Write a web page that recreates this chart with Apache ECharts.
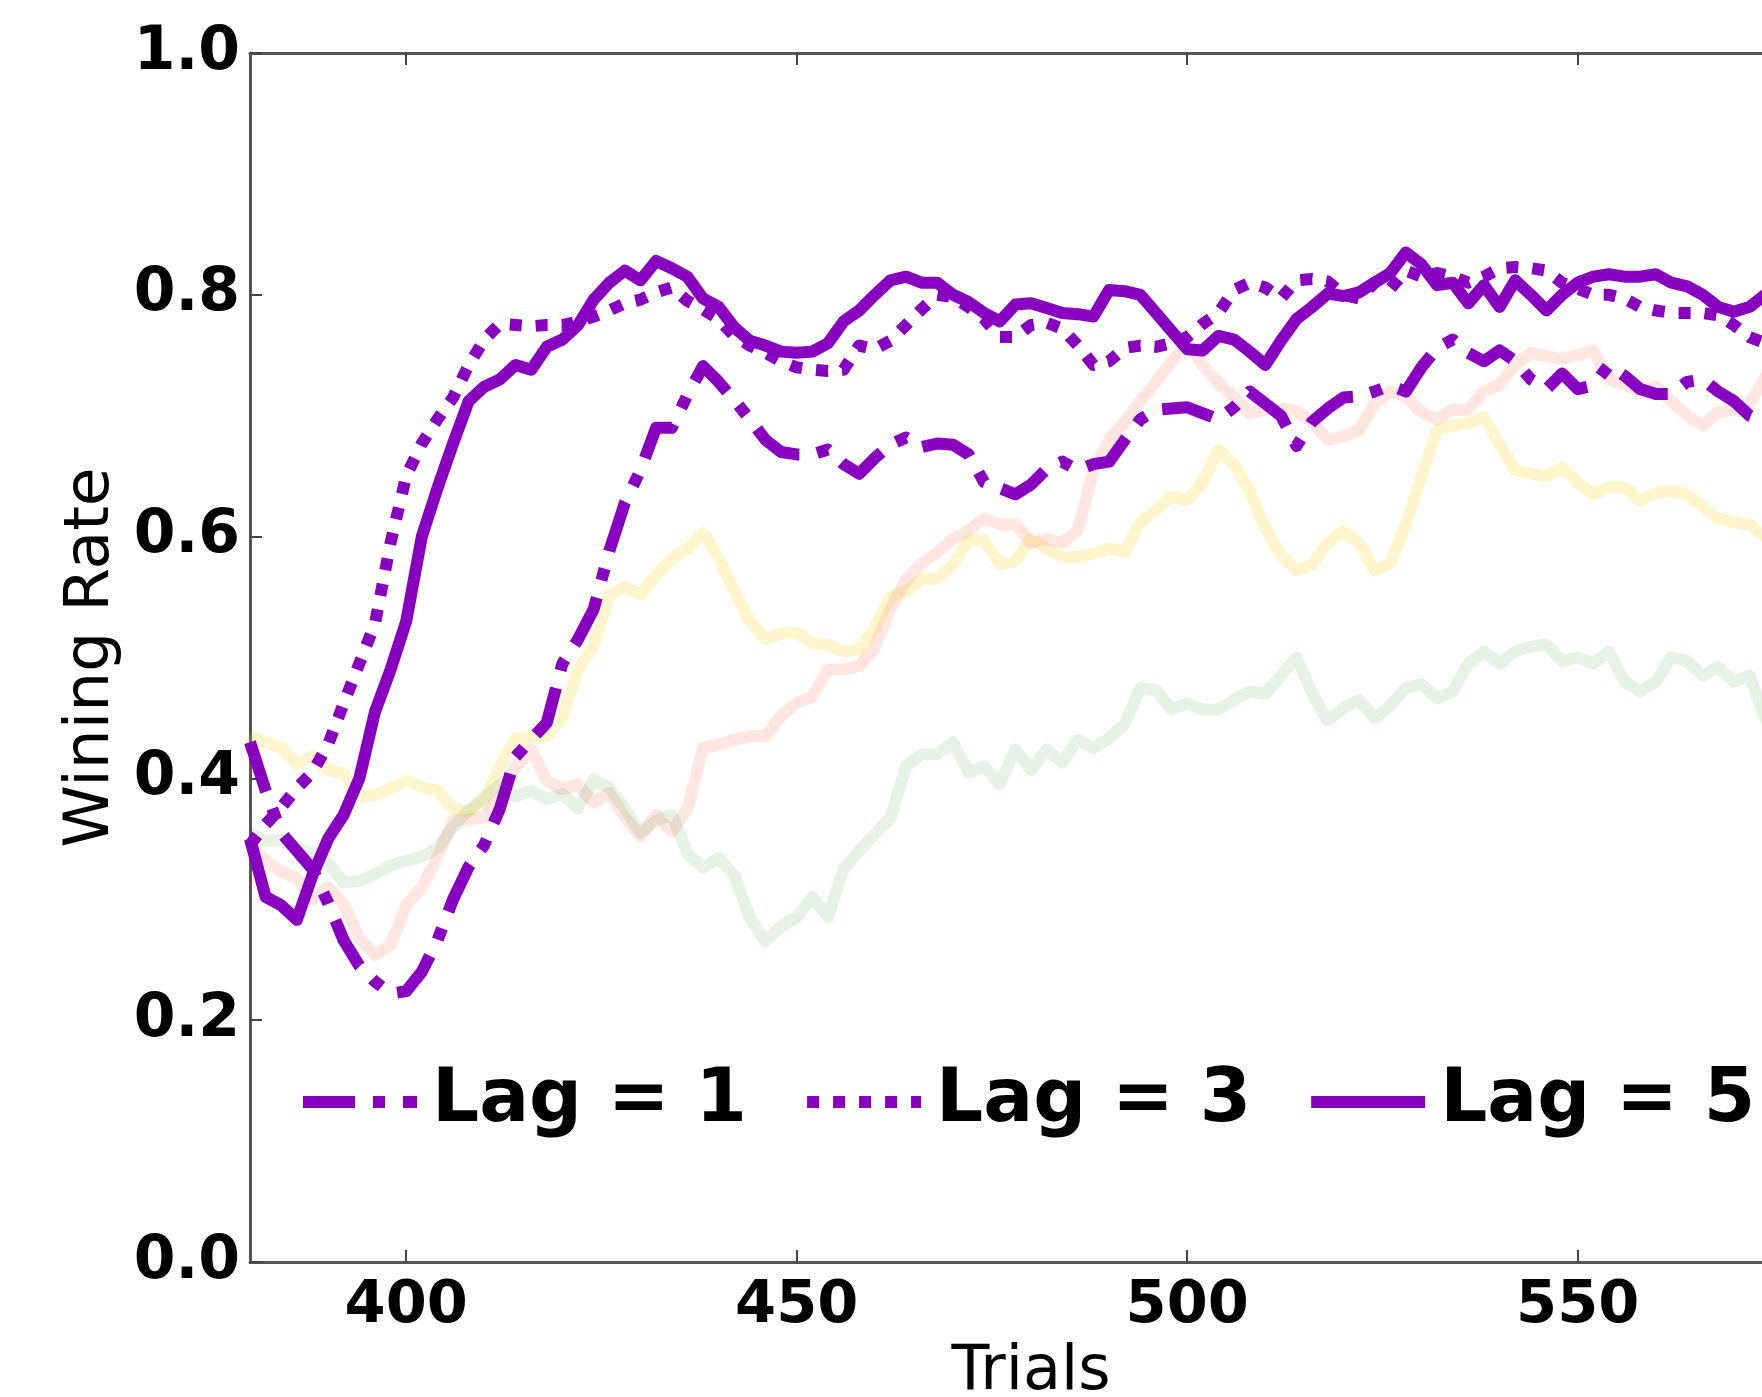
<!DOCTYPE html>
<html>
<head>
<meta charset="utf-8">
<script src="https://cdn.jsdelivr.net/npm/echarts@6/dist/echarts.min.js"></script>
<style>
  html, body { margin: 0; padding: 0; background: #fff; overflow: hidden; }
  /* wider than the window: the right side of the plot is cut off like in the source figure */
  #container { width: 1840px; height: 1397px; }
</style>
</head>
<body>
<div id="container"></div>
<script type="text/javascript">
// trials sampled every 2 steps
var trials = [];
for (var t = 380; t <= 580; t += 2) trials.push(t);

var xTicks = [400, 450, 500, 550];

// Lag = 1 (dash-dot)
var lag1 = [0.43,0.39,0.355,0.34,0.325,0.297,0.266,0.245,0.232,0.222,
  0.224,0.24,0.266,0.30,0.327,0.345,0.375,0.418,0.432,0.446,
  0.495,0.515,0.54,0.588,0.628,0.655,0.69,0.69,0.717,0.741,
  0.728,0.713,0.697,0.68,0.67,0.668,0.668,0.672,0.66,0.652,
  0.665,0.676,0.682,0.674,0.677,0.676,0.668,0.645,0.64,0.635,
  0.643,0.656,0.662,0.655,0.66,0.662,0.68,0.697,0.705,0.706,
  0.707,0.702,0.697,0.707,0.72,0.71,0.70,0.675,0.695,0.706,
  0.715,0.716,0.72,0.725,0.72,0.74,0.756,0.763,0.752,0.745,
  0.754,0.745,0.73,0.722,0.735,0.722,0.725,0.742,0.733,0.722,
  0.718,0.718,0.728,0.73,0.72,0.712,0.70,0.695,0.70,0.71,0.705];

// Lag = 3 (dotted)
var lag3 = [0.345,0.362,0.376,0.392,0.405,0.428,0.462,0.495,0.528,0.595,
  0.65,0.677,0.697,0.715,0.742,0.763,0.776,0.775,0.774,0.775,
  0.775,0.778,0.782,0.787,0.793,0.796,0.802,0.806,0.795,0.788,
  0.78,0.766,0.758,0.752,0.745,0.74,0.738,0.737,0.738,0.758,
  0.755,0.762,0.775,0.788,0.80,0.798,0.79,0.78,0.765,0.765,
  0.775,0.777,0.772,0.758,0.742,0.745,0.756,0.758,0.757,0.76,
  0.765,0.776,0.785,0.804,0.81,0.806,0.797,0.812,0.813,0.811,
  0.80,0.797,0.81,0.805,0.82,0.815,0.818,0.815,0.81,0.815,
  0.822,0.823,0.822,0.82,0.81,0.805,0.80,0.80,0.797,0.79,
  0.787,0.785,0.785,0.785,0.783,0.775,0.765,0.76,0.758,0.76,0.765];

// Lag = 5 (solid)
var lag5 = [0.35,0.302,0.295,0.283,0.32,0.35,0.37,0.40,0.455,0.49,
  0.53,0.60,0.64,0.677,0.712,0.724,0.73,0.742,0.738,0.757,
  0.763,0.775,0.796,0.81,0.82,0.812,0.828,0.822,0.815,0.797,
  0.79,0.773,0.762,0.758,0.753,0.752,0.753,0.76,0.778,0.787,
  0.80,0.812,0.815,0.81,0.81,0.80,0.794,0.785,0.778,0.792,
  0.793,0.789,0.785,0.784,0.782,0.804,0.803,0.80,0.785,0.77,
  0.755,0.754,0.766,0.763,0.753,0.742,0.762,0.78,0.79,0.801,
  0.799,0.802,0.81,0.818,0.835,0.825,0.808,0.81,0.793,0.808,
  0.79,0.812,0.80,0.787,0.80,0.81,0.815,0.817,0.815,0.815,
  0.817,0.81,0.807,0.80,0.79,0.786,0.79,0.80,0.805,0.80,0.81];

// faded background runs
var fadedYellow = [0.435,0.43,0.425,0.412,0.418,0.407,0.404,0.385,0.386,0.392,
  0.398,0.393,0.39,0.375,0.372,0.382,0.41,0.433,0.434,0.435,
  0.45,0.49,0.51,0.552,0.558,0.552,0.568,0.582,0.59,0.603,
  0.583,0.555,0.53,0.515,0.52,0.52,0.512,0.51,0.505,0.506,
  0.525,0.55,0.555,0.565,0.565,0.577,0.597,0.597,0.577,0.58,
  0.598,0.59,0.583,0.583,0.586,0.59,0.587,0.612,0.622,0.633,
  0.63,0.645,0.672,0.66,0.638,0.607,0.585,0.572,0.577,0.595,
  0.604,0.595,0.572,0.578,0.61,0.65,0.688,0.692,0.694,0.699,
  0.676,0.655,0.652,0.65,0.657,0.645,0.635,0.641,0.641,0.63,
  0.636,0.638,0.635,0.625,0.615,0.612,0.61,0.60,0.598,0.595,0.59];

var fadedRed = [0.345,0.332,0.323,0.317,0.30,0.31,0.296,0.268,0.254,0.262,
  0.295,0.31,0.335,0.365,0.366,0.368,0.385,0.41,0.424,0.398,
  0.391,0.395,0.38,0.388,0.368,0.352,0.37,0.356,0.375,0.425,
  0.428,0.432,0.435,0.435,0.452,0.462,0.468,0.49,0.49,0.493,
  0.508,0.54,0.564,0.578,0.587,0.598,0.605,0.615,0.61,0.61,
  0.595,0.598,0.595,0.605,0.655,0.68,0.695,0.712,0.728,0.745,
  0.76,0.742,0.727,0.715,0.702,0.705,0.706,0.704,0.695,0.68,
  0.683,0.688,0.71,0.72,0.716,0.703,0.697,0.705,0.705,0.72,
  0.726,0.742,0.752,0.749,0.747,0.75,0.754,0.73,0.726,0.72,
  0.724,0.712,0.70,0.692,0.703,0.705,0.71,0.732,0.74,0.735,0.73];

var fadedGreen = [0.355,0.348,0.349,0.342,0.338,0.33,0.314,0.315,0.321,0.328,
  0.332,0.335,0.342,0.36,0.374,0.384,0.395,0.385,0.39,0.383,
  0.387,0.375,0.399,0.392,0.375,0.355,0.365,0.37,0.338,0.326,
  0.334,0.32,0.285,0.265,0.278,0.285,0.302,0.285,0.325,0.34,
  0.354,0.367,0.41,0.42,0.42,0.43,0.405,0.41,0.395,0.424,
  0.407,0.424,0.413,0.432,0.425,0.433,0.445,0.475,0.473,0.457,
  0.462,0.457,0.457,0.465,0.472,0.47,0.485,0.50,0.47,0.448,
  0.458,0.465,0.45,0.46,0.475,0.478,0.466,0.472,0.495,0.505,
  0.495,0.505,0.509,0.511,0.497,0.50,0.495,0.505,0.48,0.472,
  0.48,0.50,0.497,0.485,0.492,0.48,0.485,0.45,0.44,0.445,0.45];

function pairs(vals) {
    var out = [];
    for (var i = 0; i < trials.length; i++) out.push([trials[i], vals[i]]);
    return out;
}

var purple = '#8800C0';
var font = '"DejaVu Sans", sans-serif';

var dom = document.getElementById('container');
var myChart = echarts.init(dom, null, { renderer: 'canvas' });

function faded(name, color, vals) {
    return {
        name: name, type: 'line', data: pairs(vals), symbol: 'none',
        lineStyle: { color: color, width: 12, join: 'round' },
        silent: true, z: 1
    };
}
function lagLine(name, type, vals) {
    return {
        name: name, type: 'line', data: pairs(vals), symbol: 'none',
        itemStyle: { color: purple },
        lineStyle: { color: purple, width: 12, type: type, join: 'round' },
        z: 3
    };
}

var spine = { show: true, onZero: false, lineStyle: { color: '#555', width: 3 } };

var option = {
    animation: false,
    backgroundColor: '#ffffff',
    grid: { left: 250, top: 53, width: 1562, height: 1209, containLabel: false, outerBoundsMode: 'none' },
    legend: {
        data: ['Lag = 1', 'Lag = 3', 'Lag = 5'],
        left: 297, top: 1062, padding: 0,
        itemWidth: 114, itemHeight: 14, itemGap: 54,
        itemStyle: { opacity: 0 },
        lineStyle: { width: 12 },
        textStyle: {
            fontFamily: font, fontWeight: 'bold', fontSize: 74, color: '#000',
            lineHeight: 80, padding: [0, 0, 0, 10]
        }
    },
    xAxis: [{
        type: 'value', min: 380, max: 580,
        name: 'Trials', nameLocation: 'middle', nameGap: 80,
        nameTextStyle: { fontFamily: font, fontSize: 62, color: '#000' },
        axisLine: spine,
        axisTick: { show: true, inside: true, length: 12, customValues: xTicks, lineStyle: { color: '#444', width: 2 } },
        axisLabel: { customValues: xTicks, margin: 15, fontFamily: font, fontWeight: 'bold', fontSize: 59, color: '#000' },
        splitLine: { show: false }
    }, {
        type: 'value', min: 380, max: 580, position: 'top',
        axisLine: spine,
        axisTick: { show: true, inside: true, length: 12, customValues: xTicks, lineStyle: { color: '#444', width: 2 } },
        axisLabel: { show: false },
        splitLine: { show: false }
    }],
    yAxis: [{
        type: 'value', min: 0, max: 1, interval: 0.2,
        name: 'Wining Rate', nameLocation: 'middle', nameGap: 124,
        nameTextStyle: { fontFamily: font, fontSize: 63, color: '#000' },
        axisLine: spine,
        axisTick: { show: true, inside: true, length: 12, lineStyle: { color: '#444', width: 2 } },
        axisLabel: {
            margin: 10, fontFamily: font, fontWeight: 'bold', fontSize: 60, color: '#000',
            formatter: function (v) { return v.toFixed(1); }
        },
        splitLine: { show: false }
    }, {
        type: 'value', min: 0, max: 1, interval: 0.2, position: 'right',
        axisLine: spine,
        axisTick: { show: false }, axisLabel: { show: false },
        splitLine: { show: false }
    }],
    series: [
        faded('yellow', 'rgba(255,204,0,0.2)', fadedYellow),
        faded('red', 'rgba(255,99,71,0.16)', fadedRed),
        faded('green', 'rgba(0,128,0,0.1)', fadedGreen),
        lagLine('Lag = 1', [52, 18, 12, 18], lag1),
        lagLine('Lag = 3', [12, 14], lag3),
        lagLine('Lag = 5', 'solid', lag5)
    ]
};

if (option && typeof option === 'object') {
    myChart.setOption(option);
}
</script>
</body>
</html>
